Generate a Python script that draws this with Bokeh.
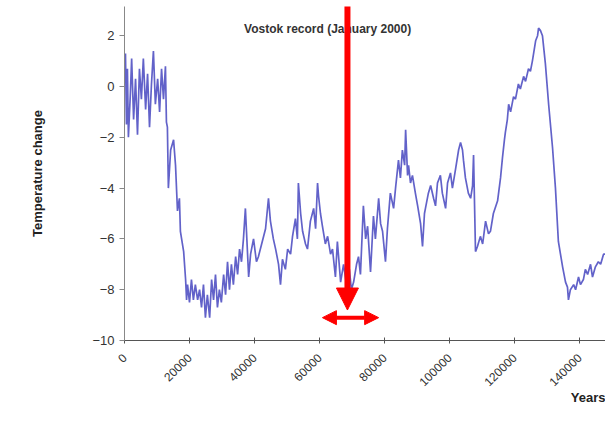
from bokeh.plotting import figure
from bokeh.models import Range1d, FixedTicker, Label, Arrow, NormalHead, Title
from bokeh.embed import file_html
from bokeh.resources import INLINE

# Vostok temperature change (deg C) vs years before present
years = [300, 600, 900, 1200, 1800, 2200, 2800, 3400, 4000, 4600, 5200, 5800, 6500, 7100,
         7700, 8300, 8900, 9500, 10200, 10800, 11400, 12000, 12600, 12900, 13200, 13500,
         14200, 15100, 15700, 16300, 16900, 17200, 18200, 18800, 19100,
         19400, 20000, 20600, 21200, 21800, 22500, 23100, 23700, 24300, 24900, 25500, 26200,
         26800, 27400, 28000, 28600, 29200, 29800, 30500, 31100, 31700, 32300, 32900, 33500,
         34200, 34800, 35400, 36000, 36600, 37200, 38200, 38800, 39700, 40600, 41200, 42200,
         43400, 44300, 44900, 45800, 46500, 47400, 48000, 48600, 49500, 50200, 51100, 51700,
         52600, 53200, 53500, 54200, 54800, 55700, 56300, 57200, 58200, 58800, 59400, 59700,
         60300, 60900, 61800, 62500, 63400, 64000, 64900, 65500, 66500, 67400, 68300, 69200,
         69800, 70500, 71400, 72000, 72600, 73500, 74200, 74800, 75700, 76600, 77200, 78200,
         78800, 79400, 80300, 80900, 81800, 82800, 83400, 84300, 84900, 85500, 86200, 86500,
         87100, 87400, 88000, 88600, 89500, 90200, 91100, 91700, 92300, 92600, 93500, 94200,
         95100, 95700, 96300, 97200, 97800, 98800, 99400, 100300, 100900, 101800, 102800,
         103400, 104000, 104300, 104900, 105800, 106500, 107100, 107400, 108000, 108600,
         109500, 110200, 111100, 112000, 112600, 113500, 114800, 115700, 116300, 116900,
         117200, 117800, 118200, 118800, 119700, 120300, 121200, 121800, 122800, 123400,
         124300, 124900, 125500, 126500, 127100, 127400, 128000, 128600, 129500, 130500,
         131700, 132600, 133500, 134800, 135700, 136300, 136600, 137200, 138200, 138800,
         139700, 140300, 141200, 141800, 142500, 143400, 144000, 144900, 145800, 146500,
         147400, 148000]
temps = [1.3, -1.5, 0.7, -2.0, -0.3, 1.1, -1.3, 0.3, -1.9, 0.7, -0.5, 1.1, -0.9, 0.5,
         -1.6, 0.1, 1.4, -0.7, 0.3, -1.0, 0.7, -0.5, 0.8, -1.4, -1.6, -4.0,
         -2.5, -2.1, -3.1, -4.9, -4.4, -5.7, -6.5, -7.6, -8.4,
         -7.8, -8.5, -7.6, -8.4, -7.8, -8.4, -8.0, -8.7, -7.8, -9.1, -8.2, -9.1,
         -7.6, -8.4, -7.4, -8.7, -8.0, -8.5, -7.4, -8.2, -6.9, -8.0, -7.0, -7.8,
         -6.7, -7.4, -6.4, -6.9, -6.0, -4.8, -7.5, -6.6, -6.0, -6.9, -6.7, -6.2,
         -5.6, -4.4, -5.3, -6.0, -6.4, -7.0, -7.8, -6.8, -7.2, -6.4, -6.6, -5.9,
         -5.2, -6.0, -3.8, -5.0, -5.7, -6.2, -6.4, -5.3, -4.8, -5.6, -3.8, -4.3,
         -5.0, -5.5, -6.2, -5.9, -6.6, -6.4, -7.5, -6.1, -7.7, -7.0, -7.8, -7.2,
         -8.0, -7.7, -7.0, -6.7, -7.4, -4.7, -6.0, -5.5, -7.3, -5.1, -6.0, -4.4,
         -5.4, -5.7, -6.9, -5.6, -4.2, -4.8, -4.0, -2.9, -3.6, -2.5, -3.1, -1.7,
         -3.5, -3.1, -3.8, -3.5, -4.2, -4.7, -5.4, -6.3, -5.0, -4.8, -4.2, -3.9,
         -4.4, -4.7, -3.8, -3.5, -4.2, -4.8, -3.8, -3.4, -4.0, -3.3, -2.5,
         -2.2, -2.5, -2.9, -3.6, -4.2, -4.4, -3.9, -2.7, -6.5, -6.3,
         -5.9, -6.2, -5.3, -5.8, -5.7, -5.0, -4.5, -3.6, -2.8, -2.1,
         -1.8, -1.3, -0.7, -1.0, -0.4, -0.5, 0.1, -0.1, 0.4, 0.2,
         0.7, 0.6, 1.0, 1.8, 2.0, 2.3, 2.2, 2.0, 0.9, -0.7,
         -2.4, -4.0, -6.1, -7.1, -7.7, -7.9, -8.4, -8.0, -7.8, -8.0,
         -7.5, -7.8, -7.6, -7.2, -7.4, -7.0, -7.5, -7.1, -6.9, -7.0,
         -6.6, -6.6]

y_ticks = [-10, -8, -6, -4, -2, 0, 2]
x_ticks = [0, 20000, 40000, 60000, 80000, 100000, 120000, 140000]
x_tick_labels = ["0", "20000", "40000", "60000", "80000", "100000", "120000", "140000"]

FONT = "Liberation Sans"

p = figure(width=605, height=432, output_backend="svg", toolbar_location=None,
           x_range=Range1d(0, 148000), y_range=Range1d(-10, 3.15),
           min_border_left=124, min_border_right=0, min_border_top=6, min_border_bottom=92)
p.background_fill_color = "white"
p.border_fill_color = "white"
p.outline_line_color = None
p.xgrid.grid_line_color = None
p.ygrid.grid_line_color = None

p.line(years, temps, line_color="#4646c0", line_width=1.7, line_alpha=0.85)

# axes
p.yaxis.ticker = FixedTicker(ticks=y_ticks)
p.yaxis.axis_label = "Temperature change"
p.yaxis.axis_label_text_font = FONT
p.yaxis.axis_label_text_font_style = "bold"
p.yaxis.axis_label_text_font_size = "13px"
p.yaxis.axis_label_text_color = "#222222"
p.yaxis.axis_label_standoff = 44
p.yaxis.major_label_text_font = FONT
p.yaxis.major_label_text_font_size = "13px"
p.yaxis.major_label_text_color = "#333333"
p.yaxis.axis_line_color = "#888888"
p.yaxis.major_tick_line_color = "#888888"
p.yaxis.major_tick_out = 5
p.yaxis.major_tick_in = 0
p.yaxis.minor_tick_line_color = None

p.xaxis.ticker = FixedTicker(ticks=x_ticks)
p.xaxis.major_label_overrides = {t: s for t, s in zip(x_ticks, x_tick_labels)}
p.xaxis.major_label_orientation = 0.785
p.xaxis.major_label_text_font = FONT
p.xaxis.major_label_text_font_size = "12px"
p.xaxis.major_label_text_color = "#333333"
p.xaxis.major_label_standoff = 12
p.xaxis.axis_line_color = "#555555"
p.xaxis.major_tick_line_color = "#555555"
p.xaxis.major_tick_out = 3
p.xaxis.major_tick_in = 3
p.xaxis.minor_tick_line_color = None

# x caption at the right end, below the axis
p.add_layout(Title(text="Years", align="right", standoff=-12,
                   text_font=FONT, text_font_style="bold", text_font_size="13px",
                   text_color="#222222"), "below")

# title inside the plot area
p.add_layout(Label(x=62500, y=2.25, text="Vostok record (January 2000)",
                   text_font=FONT, text_font_style="bold", text_font_size="12px",
                   text_color="#333333", text_align="center", text_baseline="middle"))

# red annotation arrows
p.add_layout(Arrow(x_start=68600, y_start=3.4, x_end=68600, y_end=-8.8,
                   line_color="#ff0000", line_width=6,
                   end=NormalHead(size=22, fill_color="#ff0000", line_color="#ff0000")))
p.add_layout(Arrow(x_start=60900, y_start=-9.1, x_end=78200, y_end=-9.1,
                   line_color="#ff0000", line_width=4,
                   start=NormalHead(size=14, fill_color="#ff0000", line_color="#ff0000"),
                   end=NormalHead(size=14, fill_color="#ff0000", line_color="#ff0000")))

open("out.html", "w").write(file_html(p, INLINE))
